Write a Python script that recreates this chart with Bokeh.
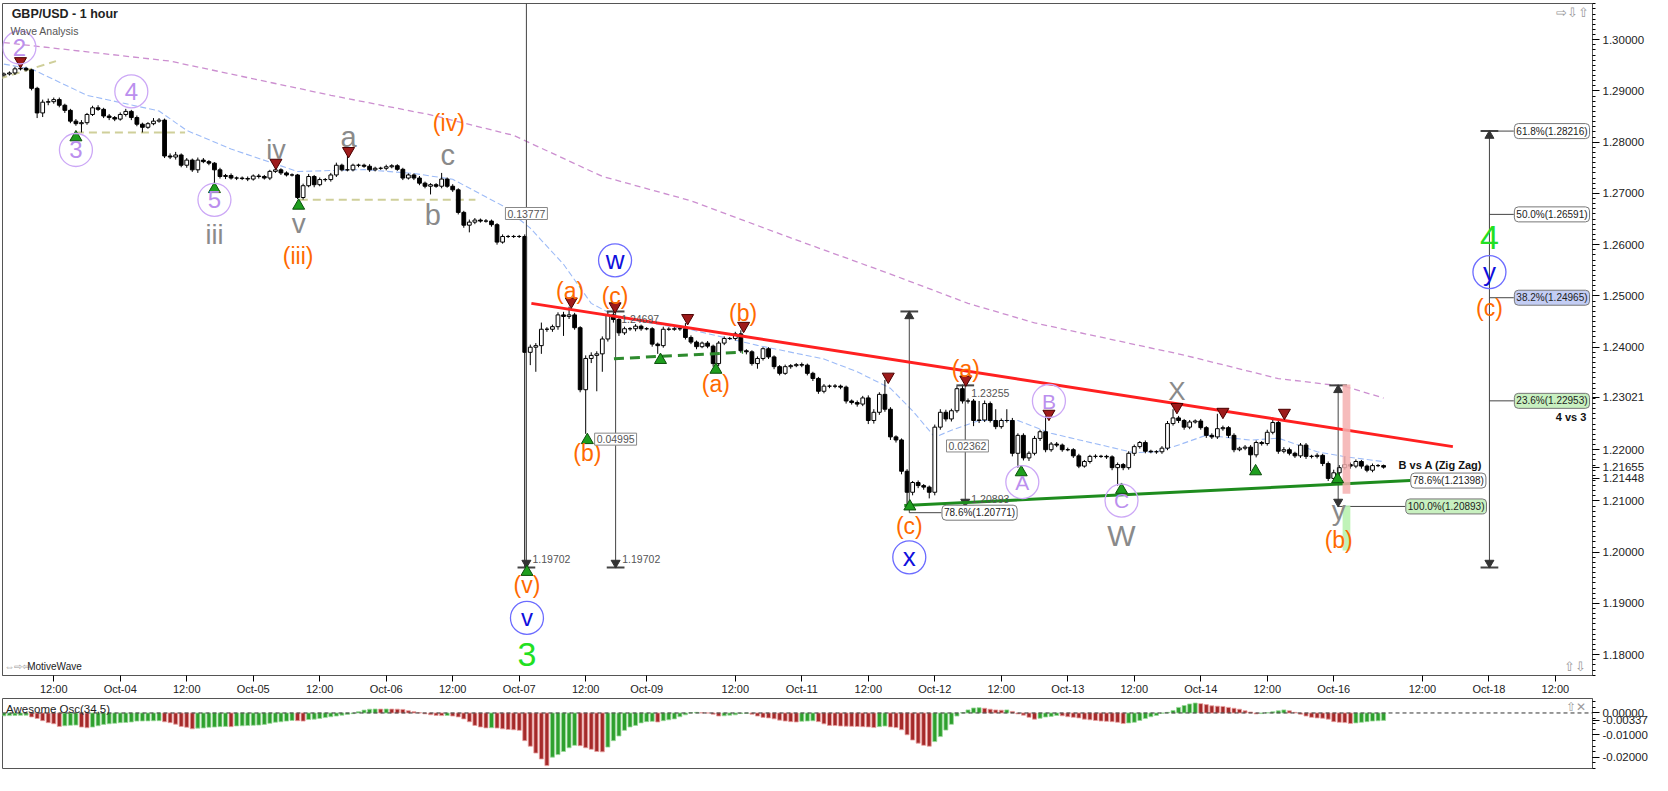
from bokeh.plotting import figure
from bokeh.models import Range1d, FixedTicker, PrintfTickFormatter, Label, Span, ColumnDataSource
from bokeh.layouts import column
from bokeh.embed import file_html
from bokeh.resources import INLINE
from bokeh.core.properties import value

FONT = "Liberation Sans"

# ---------------- data (hourly bars, index 0 = Oct-04 00:00) ----------------
bar0 = -21
first_open = 1.2931
closes = [
    1.2933, 1.2935, 1.2943, 1.2944, 1.2941, 1.2905, 1.2857, 1.2878, 1.2879, 1.2883,
    1.2872, 1.2862, 1.2841, 1.2836, 1.2838, 1.2854, 1.2867, 1.2864, 1.2851, 1.2848,
    1.2845, 1.2854, 1.2860, 1.2848, 1.2835, 1.2829, 1.2836, 1.2841, 1.2843, 1.2773,
    1.2771, 1.2775, 1.2755, 1.2765, 1.2746, 1.2765, 1.2762, 1.2759, 1.2746, 1.2733,
    1.2735, 1.2730, 1.2730, 1.2729, 1.2728, 1.2734, 1.2733, 1.2730, 1.2743, 1.2746,
    1.2740, 1.2736, 1.2736, 1.2692, 1.2715, 1.2733, 1.2717, 1.2727, 1.2727, 1.2736,
    1.2755, 1.2746, 1.2746, 1.2755, 1.2755, 1.2753, 1.2746, 1.2749, 1.2749, 1.2752,
    1.2754, 1.2747, 1.2730, 1.2736, 1.2730, 1.2720, 1.2714, 1.2717, 1.2714, 1.2728,
    1.2714, 1.2707, 1.2663, 1.2638, 1.2644, 1.2648, 1.2646, 1.2646, 1.2639, 1.2605,
    1.2616, 1.2616, 1.2616, 1.2616, 1.2390, 1.2400, 1.2403, 1.2435, 1.2435, 1.2440,
    1.2463, 1.2460, 1.2463, 1.2438, 1.2317, 1.2378, 1.2384, 1.2387, 1.2416, 1.2463,
    1.2454, 1.2428, 1.2436, 1.2436, 1.2441, 1.2436, 1.2436, 1.2406, 1.2403, 1.2435,
    1.2435, 1.2436, 1.2436, 1.2419, 1.2410, 1.2401, 1.2408, 1.2402, 1.2368, 1.2408,
    1.2417, 1.2417, 1.2426, 1.2393, 1.2391, 1.2368, 1.2378, 1.2397, 1.2381, 1.2362,
    1.2349, 1.2362, 1.2364, 1.2366, 1.2365, 1.2349, 1.2339, 1.2314, 1.2324, 1.2324,
    1.2324, 1.2322, 1.2295, 1.2292, 1.2289, 1.2301, 1.2257, 1.2273, 1.2308, 1.2279,
    1.2225, 1.2219, 1.2158, 1.2117, 1.2136, 1.2130, 1.2127, 1.2117, 1.2244, 1.2273,
    1.2260, 1.2276, 1.2319, 1.2295, 1.2295, 1.2257, 1.2258, 1.2290, 1.2257, 1.2245,
    1.2257, 1.2257, 1.2193, 1.2228, 1.2184, 1.2193, 1.2222, 1.2235, 1.2200, 1.2211,
    1.2209, 1.2200, 1.2200, 1.2188, 1.2168, 1.2177, 1.2187, 1.2187, 1.2187, 1.2186,
    1.2165, 1.2171, 1.2165, 1.2193, 1.2206, 1.2214, 1.2197, 1.2196, 1.2196, 1.2203,
    1.2251, 1.2262, 1.2257, 1.2244, 1.2254, 1.2256, 1.2243, 1.2228, 1.2225, 1.2241,
    1.2243, 1.2228, 1.2200, 1.2203, 1.2205, 1.2190, 1.2214, 1.2212, 1.2234, 1.2253,
    1.2197, 1.2200, 1.2193, 1.2188, 1.2209, 1.2187, 1.2187, 1.2189, 1.2173, 1.2144,
    1.2155, 1.2165, 1.2171, 1.2168, 1.2177, 1.2168, 1.2160, 1.2169, 1.2169, 1.2166,
]
# upper / lower wick length in pips
wick_up = [
    3, 3, 4, 8, 3, 2, 3, 5, 6, 4,   4, 3, 3, 4, 5, 3, 4, 5, 3, 4,
    3, 4, 5, 3, 4, 3, 3, 6, 4, 3,   5, 6, 3, 4, 3, 5, 4, 3, 2, 4,
    3, 4, 3, 3, 4, 3, 4, 3, 3, 9,   3, 3, 3, 2, 4, 5, 3, 4, 3, 4,
    5, 3, 27, 3, 3, 3, 4, 3, 3, 4,  3, 3, 3, 3, 3, 4, 3, 3, 3, 12,
    3, 4, 3, 3, 5, 4, 3, 4, 3, 3,   4, 3, 3, 3, 4, 5, 5, 13, 4, 4,
    5, 6, 16, 4, 3, 6, 6, 5, 5, 7,  10, 4, 4, 3, 4, 3, 3, 3, 3, 5,
    4, 3, 3, 11, 4, 3, 3, 4, 3, 4,  4, 3, 4, 7, 3, 3, 4, 3, 3, 3,
    3, 4, 3, 3, 4, 3, 3, 3, 4, 3,   4, 3, 3, 3, 4, 4, 5, 6, 4, 28,
    4, 3, 3, 4, 3, 4, 3, 3, 5, 6,   5, 4, 5, 8, 5, 4, 37, 6, 4, 22,
    4, 22, 5, 4, 4, 4, 5, 4, 31, 4, 4, 3, 4, 3, 4, 3, 3, 4, 3, 3,
    3, 4, 3, 4, 4, 3, 4, 3, 3, 4,   5, 17, 4, 3, 4, 3, 4, 3, 4, 29,
    4, 3, 4, 3, 4, 4, 4, 3, 5, 10,  4, 5, 4, 3, 4, 4, 3, 4, 3, 4,
    6, 5, 16, 4, 4, 3, 3, 4, 3, 2,
]
wick_dn = [
    3, 3, 4, 3, 3, 4, 10, 8, 6, 4,  4, 5, 4, 4, 17, 4, 3, 3, 4, 5,
    4, 3, 4, 5, 4, 10, 3, 3, 3, 4,  4, 5, 4, 5, 4, 6, 3, 4, 29, 4,
    5, 3, 4, 3, 4, 3, 4, 3, 4, 3,   4, 3, 3, 3, 4, 3, 5, 3, 4, 4,
    4, 3, 3, 3, 4, 3, 4, 3, 3, 4,   3, 3, 4, 3, 4, 4, 4, 16, 3, 4,
    3, 4, 4, 5, 14, 4, 3, 3, 4, 5,  3, 3, 3, 3, 420, 25, 48, 16, 5, 5,
    6, 38, 5, 4, 5, 86, 9, 70, 35, 5, 6, 6, 4, 4, 5, 4, 3, 5, 16, 4,
    3, 3, 4, 4, 4, 5, 3, 4, 6, 5,   4, 3, 4, 4, 5, 4, 10, 4, 4, 5,
    4, 3, 4, 3, 4, 4, 5, 5, 4, 4,   4, 4, 5, 4, 5, 4, 7, 6, 5, 5,
    6, 5, 6, 25, 6, 5, 5, 12, 6, 5, 5, 5, 4, 5, 5, 11, 5, 4, 4, 5,
    4, 4, 6, 28, 5, 6, 4, 5, 5, 4,  4, 4, 3, 4, 4, 3, 4, 4, 3, 4,
    5, 35, 5, 4, 5, 4, 4, 3, 4, 4,  4, 4, 5, 5, 4, 3, 4, 5, 4, 4,
    4, 5, 5, 3, 4, 32, 5, 4, 4, 4,  5, 4, 4, 4, 4, 5, 4, 4, 5, 5,
    5, 6, 4, 5, 4, 5, 4, 4, 3, 3,
]
# Awesome Oscillator (34,5), in units of 0.0001
ao_vals = [
    -13, -12, -11, -10.5, -10, -18, -25, -35, -44, -49,
    -61, -58, -56, -55, -64, -67, -64, -58, -52, -49,
    -47, -44, -43, -41, -37, -36.5, -36, -35.5, -35, -40,
    -44, -51, -61, -65, -72, -69, -68, -65, -64, -62,
    -61, -62, -59, -58, -57, -56, -55, -52, -47, -42,
    -40, -37, -34, -35, -37, -30, -28, -25, -21, -17,
    -14, -10, -7, -3, 6, 13, 17, 18, 17.5, 18,
    17.6, 17.3, 16, 10, 6, 1.5, -4, -8, -11, -12,
    -11.5, -14, -18, -27, -40, -56.5, -63.6, -67.8, -67, -68.5,
    -72, -74.9, -76.3, -79, -125.6, -151, -182, -209, -239, -200.6,
    -189, -175, -158, -147, -148.5, -158, -165, -175, -176.5, -155,
    -125.7, -104.5, -79, -63.6, -56.5, -45, -39.5, -38, -41, -35,
    -31, -27, -17, -8.5, 1.4, 2.8, 1.4, 0, -5.6, -14,
    -12.7, -10, -8.5, -2.8, -1.4, -5.6, -14, -20, -22.6, -26.8,
    -32.5, -36.7, -39.5, -41, -38, -36.7, -35.3, -39.5, -49.4, -56.5,
    -57.2, -59.3, -60, -60.7, -61.4, -62.1, -63.6, -66.4, -62, -59.3,
    -63.6, -66.4, -76.3, -98.9, -122.9, -137, -146.9, -151, -130, -107.3,
    -77.7, -51.6, -14.1, 1.4, 14, 22.6, 24, 21.2, 17, 14,
    12.7, 14, 7, -4.2, -9.9, -19.8, -28.2, -24, -18.4, -15.5,
    -11.3, -12.7, -17, -19.8, -22.6, -28.2, -31, -33.9, -36.7, -38,
    -39.5, -42.4, -48, -45.2, -42.4, -33.9, -25.4, -17, -11.3, -1.4,
    2.8, 11.3, 25.4, 33.9, 41, 45.2, 42.4, 38, 32.5, 31,
    29.7, 25.4, 21.2, 17, 9.9, 4.2, -4.2, -2.8, 1.4, 5.6,
    9.9, 14, 9.9, 2.8, -5.6, -14, -19.8, -22.6, -24, -28.2,
    -39.5, -42.4, -43.8, -48, -45.2, -42.4, -39.5, -36.7, -35.3, -33.7,
]

# moving averages (bar index, price)
ma_slow_x = [-21, 9, 38, 56, 71, 87, 103, 121, 139, 153, 165, 192, 209, 221, 228]
ma_slow_y = [1.29943, 1.29581, 1.28914, 1.28533, 1.28132, 1.27332, 1.26856, 1.26132,
             1.25427, 1.24855, 1.24474, 1.23845, 1.23388, 1.23235, 1.23007]
ma_fast_x = [-21, -16, -6, 7, 12, 20, 32, 44, 53, 60, 69, 74, 80, 85, 90, 103, 115, 127,
             133, 139, 143, 147, 150, 155, 162, 168, 177, 183, 187, 191, 196, 204, 209,
             216, 221, 228]
ma_fast_y = [1.29523, 1.29428, 1.28914, 1.28609, 1.28228, 1.27866, 1.27427, 1.27465,
             1.27389, 1.27275, 1.26760, 1.26322, 1.25617, 1.24855, 1.24570, 1.24341,
             1.24036, 1.23769, 1.23521, 1.23197, 1.22759, 1.22245, 1.22378, 1.22569,
             1.22569, 1.22320, 1.22092, 1.21940, 1.21960, 1.22092, 1.22283, 1.22187,
             1.22225, 1.21960, 1.21864, 1.21768]

# x-axis tick labels
tick_idx = [-12, 0, 12, 24, 36, 48, 60, 72, 84, 95, 111, 123, 135, 147, 159, 171, 183,
            195, 207, 219, 235, 247, 259]
tick_lab = ["12:00", "Oct-04", "12:00", "Oct-05", "12:00", "Oct-06", "12:00", "Oct-07",
            "12:00", "Oct-09", "12:00", "Oct-11", "12:00", "Oct-12", "12:00", "Oct-13",
            "12:00", "Oct-14", "12:00", "Oct-16", "12:00", "Oct-18", "12:00"]
# price axis: round levels plus the current-value tags (1.23021 MA, 1.21655 last, 1.21448)
price_ticks = [1.18, 1.19, 1.20, 1.21, 1.21448, 1.21655, 1.22, 1.23021, 1.24, 1.25, 1.26,
               1.27, 1.28, 1.29, 1.30]
osc_ticks = [0.0, -0.00337, -0.01, -0.02]

# wave labels
PUR, GRY, ORG, BLU, GRN = "#BB8FEE", "#8A8A8A", "#FF6A00", "#1010DD", "#22E022"
wave_txt = ["2", "3", "4", "5", "iii", "iv", "v", "(iii)", "a", "(iv)", "c", "b",
            "(v)", "v", "3", "w", "(a)", "(c)", "(b)", "(a)", "(b)", "(c)", "x", "(a)",
            "B", "A", "C", "W", "X", "y", "(b)", "4", "y", "(c)"]
wave_x = [-18.2, -8.0, 2.0, 17.0, 17.0, 28.1, 32.2, 32.1, 41.2, 59.3, 59.1, 56.4,
          73.4, 73.4, 73.4, 89.3, 81.2, 89.3, 84.3, 107.5, 112.4, 142.4, 142.4, 152.6,
          167.6, 162.8, 180.7, 180.7, 190.7, 219.9, 219.9, 247.1, 247.1, 247.1]
wave_y = [1.29847, 1.27847, 1.28990, 1.26875, 1.26189, 1.27847, 1.26418, 1.25770,
          1.28094, 1.28380, 1.27751, 1.26570, 1.19367, 1.18719, 1.17995, 1.25694,
          1.25103, 1.25008, 1.21940, 1.23274, 1.24664, 1.20510, 1.19901, 1.23578,
          1.22950, 1.21368, 1.21006, 1.20320, 1.23140, 1.20815, 1.20244, 1.26132,
          1.25465, 1.24760]
wave_col = [PUR, PUR, PUR, PUR, GRY, GRY, GRY, ORG, GRY, ORG, GRY, GRY,
            ORG, BLU, GRN, BLU, ORG, ORG, ORG, ORG, ORG, ORG, BLU, ORG,
            PUR, PUR, PUR, GRY, GRY, GRY, ORG, GRN, BLU, ORG]
wave_size = ["24px", "24px", "24px", "24px", "27px", "27px", "28px", "23px", "29px", "23px",
             "29px", "29px", "23px", "24px", "34px", "26px", "23px", "23px", "23px", "23px",
             "23px", "23px", "26px", "23px", "21px", "21px", "21px", "30px", "26px", "28px",
             "23px", "34px", "26px", "23px"]
circ_x = [-18.2, -8.0, 2.0, 17.0, 73.4, 89.3, 142.4, 167.6, 162.8, 180.7, 247.1]
circ_y = [1.29847, 1.27847, 1.28990, 1.26875, 1.18719, 1.25694, 1.19901, 1.22950,
          1.21368, 1.21006, 1.25465]
circ_col = ["#CCA8F6"] * 4 + ["#6C6CFF"] * 3 + ["#CCA8F6"] * 3 + ["#6C6CFF"]

# swing markers
top_mk_x = [-18.0, 28.1, 41.2, 81.4, 89.3, 102.4, 112.5, 138.6, 152.6, 167.6, 190.7, 199.0, 210.1]
top_mk_y = [1.29581, 1.27599, 1.27828, 1.24893, 1.24798, 1.24569, 1.24417, 1.23426,
            1.23369, 1.22702, 1.22835, 1.22740, 1.22721]
bot_mk_x = [-8.0, 17.0, 32.2, 84.3, 73.4, 97.5, 107.5, 142.5, 162.6, 180.7, 204.9, 219.7]
bot_mk_y = [1.28094, 1.27084, 1.26760, 1.22187, 1.19615, 1.23750, 1.23559, 1.20892,
            1.21559, 1.21216, 1.21578, 1.21425]

# trend lines
red_tl_x, red_tl_y = [74.2, 240.5], [1.24855, 1.22060]
grn_tl_x, grn_tl_y = [141.5, 232.8], [1.20911, 1.21398]
grn_dash_x, grn_dash_y = [89.1, 112.4], [1.23775, 1.23902]
khaki_x0 = [-21.8, -8.0, 32.4]
khaki_x1 = [-11.6, 11.7, 64.1]
khaki_y0 = [1.29238, 1.28190, 1.26875]
khaki_y1 = [1.29581, 1.28190, 1.26875]

# measuring tools
meas_x = [73.3, 89.4, 142.4, 152.5, 219.8, 247.1]
meas_top = [1.3348, 1.24697, 1.24697, 1.23255, 1.23255, 1.28216]
meas_bot = [1.19702, 1.19702, 1.20771, 1.20893, 1.20893, 1.19702]
tbar_x = [73.3, 89.4, 89.4, 142.4, 152.5, 152.5, 219.8, 247.1, 247.1]
tbar_y = [1.19702, 1.24697, 1.19702, 1.24697, 1.23255, 1.20893, 1.23255, 1.28216, 1.19702]
arr_dn_x = [73.3, 89.4, 152.5, 219.8, 247.1]
arr_dn_y = [1.19702, 1.19702, 1.20893, 1.20893, 1.19702]
arr_up_x = [142.4, 219.8, 247.1]
arr_up_y = [1.24697, 1.23255, 1.28216]
conn_x0 = [142.4, 219.8, 247.1, 247.1, 247.1, 247.1]
conn_x1 = [148.2, 231.9, 251.5, 251.5, 251.5, 251.5]
conn_y = [1.20771, 1.20893, 1.28216, 1.26591, 1.24965, 1.22953]

fib_txt = ["61.8%(1.28216)", "50.0%(1.26591)", "38.2%(1.24965)", "23.6%(1.22953)",
           "78.6%(1.20771)", "100.0%(1.20893)", "78.6%(1.21398)"]
fib_x = [251.6, 251.6, 251.6, 251.6, 148.3, 232.0, 232.9]
fib_y = [1.28216, 1.26591, 1.24965, 1.22953, 1.20771, 1.20893, 1.21398]
fib_fill = ["white", "white", "#C3CDF4", "#C8F0C0", "white", "#C8F0C0", "white"]

box_txt = ["0.13777", "0.04995", "0.02362"]
box_x = [73.3, 89.4, 152.9]
box_y = [1.26608, 1.22206, 1.22073]

plain_txt = ["1.24697", "1.19702", "1.19702", "1.23255", "1.20893"]
plain_x = [90.4, 74.4, 90.6, 153.6, 153.6]
plain_y = [1.24550, 1.19863, 1.19863, 1.23102, 1.21044]

pink_box = (220.6, 222.0, 1.23274, 1.21139)
green_box = (220.6, 222.0, 1.20911, 1.20034)

# ---------------- derived candle geometry ----------------
n = len(closes)
idx = list(range(bar0, bar0 + n))
opens = [first_open] + closes[:-1]
tops = [max(o, c) for o, c in zip(opens, closes)]
bots = [min(o, c) for o, c in zip(opens, closes)]
highs = [t + u * 1e-4 for t, u in zip(tops, wick_up)]
lows = [b - d * 1e-4 for b, d in zip(bots, wick_dn)]
fills = ["white" if c >= o else "black" for o, c in zip(opens, closes)]
src = ColumnDataSource(dict(x=idx, top=tops, bot=bots, hi=highs, lo=lows, fill=fills))

XR = Range1d(-21.25, 265.7)
p = figure(frame_width=1590, frame_height=672, x_range=XR, y_range=Range1d(1.17595, 1.30705),
           output_backend="svg", toolbar_location=None, y_axis_location="right",
           min_border_left=2, min_border_top=3, min_border_bottom=0, min_border_right=0)
p.xgrid.grid_line_color = None
p.ygrid.grid_line_color = None
p.outline_line_color = "#555555"
p.background_fill_color = "white"

p.yaxis.ticker = FixedTicker(ticks=price_ticks,
                             minor_ticks=[round(1.175 + k * 0.001, 3) for k in range(134)])
p.yaxis.formatter = PrintfTickFormatter(format="%.5f")
p.yaxis.major_label_text_font = FONT
p.yaxis.major_label_text_font_size = "11.5px"
p.yaxis.major_label_text_color = "#222222"
p.yaxis.axis_line_color = "#555555"
p.yaxis.major_tick_out = 7
p.yaxis.major_tick_in = 0
p.yaxis.minor_tick_out = 3
p.yaxis.minor_tick_in = 0
p.yaxis.major_label_standoff = 3

p.xaxis.ticker = FixedTicker(ticks=tick_idx)
p.xaxis.major_label_overrides = {t: s for t, s in zip(tick_idx, tick_lab)}
p.xaxis.major_label_text_font = FONT
p.xaxis.major_label_text_font_size = "11px"
p.xaxis.major_label_text_color = "#222222"
p.xaxis.major_tick_out = 6
p.xaxis.major_tick_in = 0
p.xaxis.minor_tick_line_color = None
p.xaxis.major_label_standoff = 1
p.xaxis.axis_line_color = "#555555"

# moving averages
p.line(ma_slow_x, ma_slow_y, line_color="#CC8FD0", line_width=1.3, line_dash="6 4")
p.line(ma_fast_x, ma_fast_y, line_color="#9DBBF7", line_width=1.1, line_dash="6 3")

# dashed khaki levels
p.segment(khaki_x0, khaki_y0, khaki_x1, khaki_y1, line_color="#CFCF9A", line_width=2, line_dash="8 5")

# candles
p.segment("x", "hi", "x", "lo", source=src, line_color="black", line_width=1)
p.vbar(x="x", width=0.68, top="top", bottom="bot", fill_color="fill", line_color="black",
       line_width=1, source=src)

# measuring tools
p.segment(meas_x, meas_top, meas_x, meas_bot, line_color="#444444", line_width=1)
p.segment([x - 1.6 for x in tbar_x], tbar_y, [x + 1.6 for x in tbar_x], tbar_y,
          line_color="#444444", line_width=2)
p.segment(conn_x0, conn_y, conn_x1, conn_y, line_color="#444444", line_width=1)
p.scatter(arr_dn_x, [y + 0.0009 for y in arr_dn_y], marker="inverted_triangle",
          size=9, fill_color="#333333", line_color="#333333")
p.scatter(arr_up_x, [y - 0.0009 for y in arr_up_y], marker="triangle",
          size=9, fill_color="#333333", line_color="#333333")

# trend lines
p.line(red_tl_x, red_tl_y, line_color="#FF2020", line_width=3)
p.line(grn_tl_x, grn_tl_y, line_color="#1E8C1E", line_width=3)
p.line(grn_dash_x, grn_dash_y, line_color="#2E8B2E", line_width=3, line_dash="10 6")

# highlight boxes
p.quad(left=pink_box[0], right=pink_box[1], top=pink_box[2], bottom=pink_box[3],
       fill_color="#F4AFAF", fill_alpha=0.85, line_color=None)
p.quad(left=green_box[0], right=green_box[1], top=green_box[2], bottom=green_box[3],
       fill_color="#B9F2B0", fill_alpha=0.9, line_color=None)

# swing markers
p.scatter(top_mk_x, top_mk_y, marker="inverted_triangle", size=12, fill_color="#9E1B1B",
          line_color="#4A0000", line_width=1)
p.scatter(bot_mk_x, bot_mk_y, marker="triangle", size=12, fill_color="#1E9E1E",
          line_color="#0B4F0B", line_width=1)

# wave circles & labels
p.scatter(circ_x, circ_y, marker="circle", size=33, fill_color=None, line_color=circ_col,
          line_width=1.3)
wsrc = ColumnDataSource(dict(x=wave_x, y=wave_y, t=wave_txt, c=wave_col, s=wave_size))
p.text(x="x", y="y", text="t", text_color="c", text_font_size="s", text_align="center",
       text_baseline="middle", text_font=value(FONT), source=wsrc)


def lab(fig, x, y, text, color="#222222", size="10px", align="left", style="normal",
        fill=None, border=None, radius=0, pad=0, baseline="middle"):
    kw = {}
    if fill is not None:
        kw["background_fill_color"] = fill
    if border is not None:
        kw["border_line_color"] = border
    fig.add_layout(Label(x=x, y=y, text=text, text_color=color,
                         text_font_size=size, text_font=FONT, text_align=align,
                         text_baseline=baseline, text_font_style=style,
                         padding=pad, border_radius=radius, **kw))


for t, x, y, f in zip(fib_txt, fib_x, fib_y, fib_fill):
    lab(p, x, y, t, color="#222222", size="10px", fill=f, border="#777777", radius=4, pad=2)
for t, x, y in zip(box_txt, box_x, box_y):
    lab(p, x, y, t, color="#555555", size="10.5px", align="center", fill="white",
        border="#888888", pad=2)
for t, x, y in zip(plain_txt, plain_x, plain_y):
    lab(p, x, y, t, color="#555555", size="10.5px")

lab(p, 245.8, 1.21692, "B vs A (Zig Zag)", color="#111111", size="11px", align="right", style="bold")
lab(p, 264.6, 1.22645, "4 vs 3", color="#111111", size="11px", align="right", style="bold")
lab(p, -19.6, 1.30495, "GBP/USD - 1 hour", color="#222222", size="12.5px", style="bold")
lab(p, -19.8, 1.30171, "Wave Analysis", color="#555555", size="10.5px")
lab(p, -20.9, 1.17767, "\u21d4\u21e8\u21e6", color="#999999", size="10px")
lab(p, -16.8, 1.17767, "MotiveWave", color="#222222", size="10px")
lab(p, 265.0, 1.30533, "\u21e8\u21e9\u21e7", color="#999999", size="13px", align="right")
lab(p, 264.6, 1.17767, "\u21e7\u21e9", color="#999999", size="13px", align="right")

# ---------------- oscillator panel ----------------
ao = [v * 1e-4 for v in ao_vals]
ao_col = ["#2EA02E" if k == 0 or ao[k] >= ao[k - 1] else "#A52A2A" for k in range(len(ao))]
ao_line = ["#9AD89A" if c == "#2EA02E" else "#E8A0A0" for c in ao_col]
osrc = ColumnDataSource(dict(x=idx, v=ao, c=ao_col, lc=ao_line))
po = figure(frame_width=1590, frame_height=70, x_range=XR, y_range=Range1d(-0.02521, 0.00657),
            output_backend="svg", toolbar_location=None, y_axis_location="right",
            min_border_left=2, min_border_top=1, min_border_bottom=2, min_border_right=0)
po.xgrid.grid_line_color = None
po.ygrid.grid_line_color = None
po.xaxis.visible = False
po.outline_line_color = "#555555"
po.yaxis.ticker = FixedTicker(ticks=osc_ticks,
                              minor_ticks=[round(-0.025 + k * 0.0025, 4) for k in range(13)])
po.yaxis.formatter = PrintfTickFormatter(format="%.5f")
po.yaxis.major_label_text_font = FONT
po.yaxis.major_label_text_font_size = "11.5px"
po.yaxis.major_label_text_color = "#222222"
po.yaxis.axis_line_color = "#555555"
po.yaxis.major_tick_out = 7
po.yaxis.major_tick_in = 0
po.yaxis.minor_tick_out = 3
po.yaxis.minor_tick_in = 0
po.yaxis.major_label_standoff = 3
po.vbar(x="x", width=0.72, top="v", bottom=0, fill_color="c", line_color="lc", line_width=0.8,
        source=osrc)
po.add_layout(Span(location=0, dimension="width", line_color="#333333", line_dash="4 3",
                   line_width=1))
lab(po, -20.6, 0.0016, "Awesome Osc(34,5)", color="#222222", size="11.5px")
lab(po, 264.6, 0.0028, "\u21e7\u2715", color="#999999", size="12px", align="right")

layout = column(p, po, spacing=0)
open("out.html", "w").write(file_html(layout, INLINE))
